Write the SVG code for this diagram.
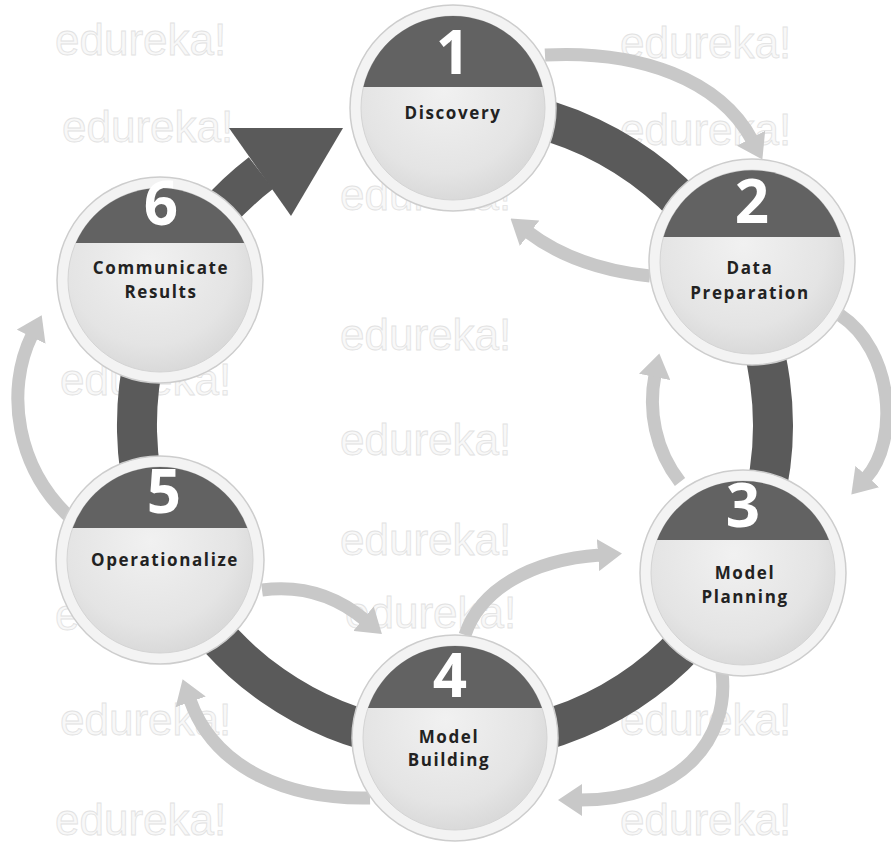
<svg xmlns="http://www.w3.org/2000/svg" width="891" height="851" viewBox="0 0 891 851">
<style>
.wm{font-family:"Liberation Sans",Arial,sans-serif;font-size:44px;fill:#f8f8f8;stroke:#e2e2e2;stroke-width:0.8;}
.ring{fill:none;stroke:#5a5a5a;stroke-width:40;}
.conn{fill:none;stroke:#c8c8c8;stroke-width:13;}
.rim{fill:#f3f3f3;stroke:#cdcdcd;stroke-width:1.5;}
.body{fill:url(#bodyGrad);stroke:#d4d4d4;stroke-width:1;}
.cap{fill:#626262;}
.num{font-family:"Open Sans","Liberation Sans",sans-serif;font-weight:bold;font-size:60px;fill:#ffffff;text-anchor:middle;}
.lbl{font-family:"Open Sans","Liberation Sans",sans-serif;font-weight:bold;font-size:17px;fill:#222222;text-anchor:middle;letter-spacing:1.6px;}
</style>
<defs>
<radialGradient id="bodyGrad" cx="0.45" cy="0.4" r="0.65">
<stop offset="0" stop-color="#f1f1f1"/>
<stop offset="0.7" stop-color="#e4e4e4"/>
<stop offset="1" stop-color="#d6d6d6"/>
</radialGradient>
<marker id="ah" viewBox="0 0 24 32" refX="2" refY="16" markerWidth="24" markerHeight="32" markerUnits="userSpaceOnUse" orient="auto">
<path d="M0,0 L24,16 L0,32 z" fill="#c8c8c8"/>
</marker>
</defs>
<rect width="891" height="851" fill="#ffffff"/>
<g id="watermarks">
<text class="wm" x="55" y="55">edureka!</text>
<text class="wm" x="620" y="58">edureka!</text>
<text class="wm" x="62" y="142">edureka!</text>
<text class="wm" x="620" y="145">edureka!</text>
<text class="wm" x="340" y="210">edureka!</text>
<text class="wm" x="340" y="350">edureka!</text>
<text class="wm" x="60" y="395">edureka!</text>
<text class="wm" x="340" y="455">edureka!</text>
<text class="wm" x="340" y="555">edureka!</text>
<text class="wm" x="55" y="630">edureka!</text>
<text class="wm" x="345" y="628">edureka!</text>
<text class="wm" x="60" y="735">edureka!</text>
<text class="wm" x="620" y="735">edureka!</text>
<text class="wm" x="55" y="835">edureka!</text>
<text class="wm" x="620" y="835">edureka!</text>
</g>
<g id="connectors">
<path class="ring" d="M 455 107 A 318 318 0 1 1 261 173"/>
<polygon points="229,128 343,128 291,216" fill="#5a5a5a"/>
<path class="conn" marker-end="url(#ah)" d="M 545 55 C 640 50 720 80 752 140"/>
<path class="conn" marker-end="url(#ah)" d="M 650 276 Q 575 268 528 232"/>
<path class="conn" marker-end="url(#ah)" d="M 840 315 C 893 350 900 440 866 478"/>
<path class="conn" marker-end="url(#ah)" d="M 680 482 C 655 450 648 410 655 375"/>
<path class="conn" marker-end="url(#ah)" d="M 465 635 C 480 590 530 560 600 555"/>
<path class="conn" marker-end="url(#ah)" d="M 722 672 C 730 740 680 800 580 800"/>
<path class="conn" marker-end="url(#ah)" d="M 262 590 C 300 585 335 595 365 620"/>
<path class="conn" marker-end="url(#ah)" d="M 370 798 C 290 800 215 770 190 700"/>
<path class="conn" marker-end="url(#ah)" d="M 75 522 C 15 470 5 390 32 335"/>
</g>
<g id="node1" transform="translate(453,108)">
<circle class="rim" r="103"/>
<circle class="body" r="92"/>
<path class="cap" d="M -89.6 -21 A 92 92 0 0 1 89.6 -21 Z"/>
<text class="num" x="0" y="-34">1</text>
<text class="lbl" x="0" y="11">Discovery</text>
</g>
<g id="node2" transform="translate(752,262)">
<circle class="rim" r="103"/>
<circle class="body" r="92"/>
<path class="cap" d="M -88.5 -25 A 92 92 0 0 1 88.5 -25 Z"/>
<text class="num" x="0" y="-39">2</text>
<text class="lbl" x="-2" y="12">Data</text>
<text class="lbl" x="-2" y="37">Preparation</text>
</g>
<g id="node3" transform="translate(743,573)">
<circle class="rim" r="103"/>
<circle class="body" r="92"/>
<path class="cap" d="M -85.9 -33 A 92 92 0 0 1 85.9 -33 Z"/>
<text class="num" x="0" y="-46">3</text>
<text class="lbl" x="2" y="6">Model</text>
<text class="lbl" x="2" y="30">Planning</text>
</g>
<g id="node4" transform="translate(455,738)">
<circle class="rim" r="103"/>
<circle class="body" r="92"/>
<path class="cap" d="M -87 -30 A 92 92 0 0 1 87 -30 Z"/>
<text class="num" x="-5" y="-41">4</text>
<text class="lbl" x="-6" y="5">Model</text>
<text class="lbl" x="-6" y="28">Building</text>
</g>
<g id="node5" transform="translate(160,560)">
<circle class="rim" r="104"/>
<circle class="body" r="93"/>
<path class="cap" d="M -87.3 -32 A 93 93 0 0 1 87.3 -32 Z"/>
<text class="num" x="4" y="-47">5</text>
<text class="lbl" x="5" y="6">Operationalize</text>
</g>
<g id="node6" transform="translate(160,280)">
<circle class="rim" r="103"/>
<circle class="body" r="92"/>
<path class="cap" d="M -84.2 -37 A 92 92 0 0 1 84.2 -37 Z"/>
<text class="num" x="1" y="-55">6</text>
<text class="lbl" x="1" y="-6">Communicate</text>
<text class="lbl" x="1" y="18">Results</text>
</g>
</svg>
